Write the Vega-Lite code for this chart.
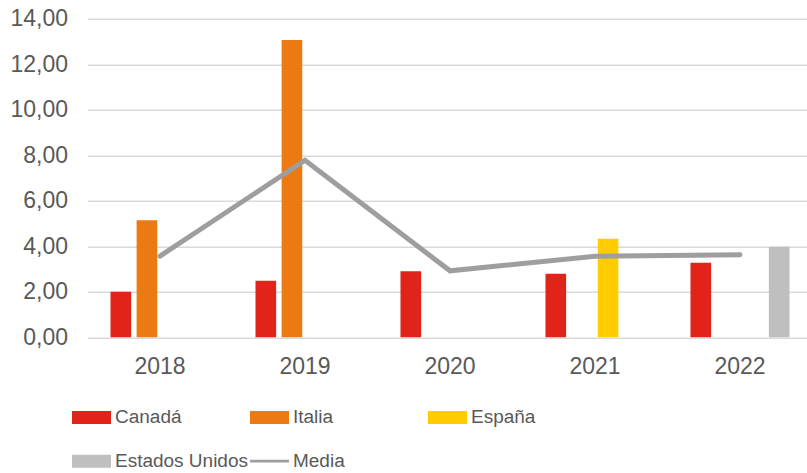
{
  "$schema": "https://vega.github.io/schema/vega-lite/v6.json",
  "width": 725,
  "height": 318.6,
  "autosize": {"type": "none"},
  "padding": {"left": 87.5, "top": 18.7, "right": 0, "bottom": 140},
  "background": "white",
  "config": {
    "view": {"stroke": null},
    "font": "Liberation Sans",
    "axis": {"labelColor": "#595959", "labelFont": "Liberation Sans", "labelFontSize": 23}
  },
  "datasets": {
    "bars": [
      {"year": "2018", "country": "Canadá", "value": 2.0},
      {"year": "2018", "country": "Italia", "value": 5.14},
      {"year": "2019", "country": "Canadá", "value": 2.49},
      {"year": "2019", "country": "Italia", "value": 13.06},
      {"year": "2020", "country": "Canadá", "value": 2.9},
      {"year": "2021", "country": "Canadá", "value": 2.79},
      {"year": "2021", "country": "España", "value": 4.33},
      {"year": "2022", "country": "Canadá", "value": 3.28},
      {"year": "2022", "country": "Estados Unidos", "value": 3.98}
    ],
    "media": [
      {"year": "2018", "series": "Media", "value": 3.57},
      {"year": "2019", "series": "Media", "value": 7.78},
      {"year": "2020", "series": "Media", "value": 2.92},
      {"year": "2021", "series": "Media", "value": 3.56},
      {"year": "2022", "series": "Media", "value": 3.63}
    ]
  },
  "layer": [
    {
      "data": {"name": "bars"},
      "mark": {"type": "bar"},
      "encoding": {
        "x": {
          "field": "year", "type": "nominal",
          "scale": {"paddingInner": 0, "paddingOuter": 0},
          "axis": {"title": null, "labelAngle": 0, "ticks": false, "domain": false, "grid": false, "labelPadding": 18}
        },
        "xOffset": {
          "field": "country", "type": "nominal",
          "scale": {"domain": ["Canadá", "Italia", "España", "Estados Unidos"], "paddingInner": 0.21, "paddingOuter": 0.88}
        },
        "y": {
          "field": "value", "type": "quantitative",
          "scale": {"domain": [0, 14]},
          "axis": {
            "title": null, "values": [0, 2, 4, 6, 8, 10, 12, 14],
            "labelExpr": "replace(format(datum.value, '.2f'), '.', ',')",
            "ticks": false, "domain": false, "gridColor": "#D9D9D9", "gridWidth": 1.5, "labelPadding": 20
          }
        },
        "color": {
          "field": "country", "type": "nominal",
          "scale": {
            "domain": ["Canadá", "Italia", "España", "Estados Unidos", "Media"],
            "range": ["#E2231A", "#EC7A12", "#FFCC00", "#C0BFBF", "#9E9D9F"]
          },
          "legend": {
            "title": null, "orient": "none", "legendX": -15.5, "legendY": 379,
            "direction": "horizontal", "columns": 3, "gridAlign": "all",
            "columnPadding": 1, "rowPadding": 14,
            "labelFont": "Liberation Sans", "labelFontSize": 19, "labelColor": "#595959",
            "labelOffset": 4, "symbolSize": 1521, "symbolStrokeWidth": 0, "symbolOpacity": 1,
            "encode": {
              "symbols": {
                "update": {
                  "shape": {"signal": "datum.value === 'Media' ? 'M-1,-0.07H1V0.07H-1Z' : 'M-1,-0.33H1V0.33H-1Z'"},
                  "fill": {"signal": "scale('color', datum.value)"},
                  "strokeWidth": {"value": 0},
                  "opacity": {"value": 1}
                }
              }
            }
          }
        }
      }
    },
    {
      "data": {"name": "media"},
      "mark": {"type": "line", "strokeWidth": 5, "strokeCap": "round", "strokeJoin": "miter"},
      "encoding": {
        "x": {"field": "year", "type": "nominal"},
        "y": {"field": "value", "type": "quantitative"},
        "color": {"field": "series", "type": "nominal"}
      }
    }
  ]
}
